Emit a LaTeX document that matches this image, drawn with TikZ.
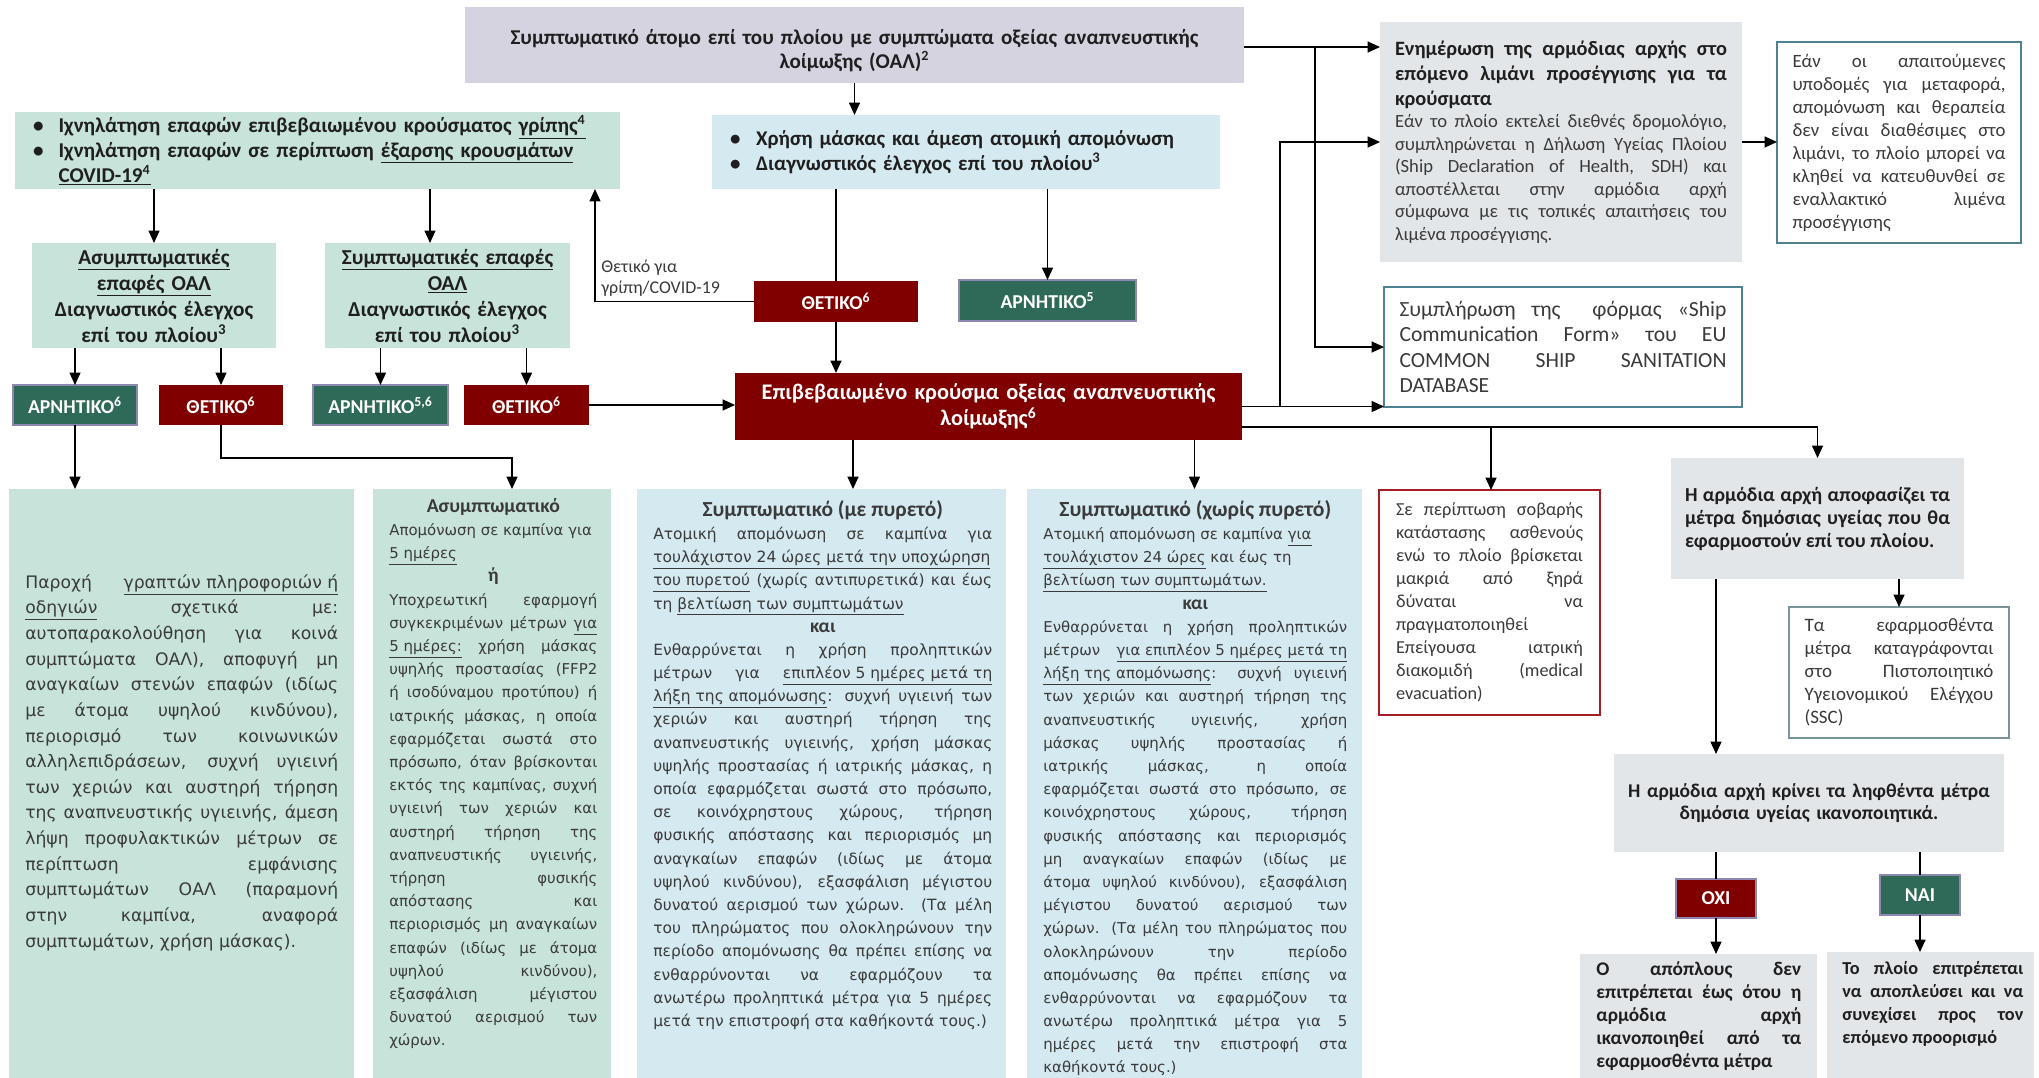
\documentclass[tikz,border=0pt]{standalone}
\usepackage{fontspec}
\setmainfont{Carlito}
\newfontfamily\colfont{DejaVu Sans}
\usetikzlibrary{arrows.meta}
\newcommand{\und}[1]{\underline{#1}}
\definecolor{lav}{HTML}{D5D3E0}
\definecolor{skyb}{HTML}{D5E9F1}
\definecolor{mint}{HTML}{C8E4DA}
\definecolor{gry}{HTML}{E3E6E8}
\definecolor{dkred}{HTML}{800000}
\definecolor{dkgrn}{HTML}{2E6A57}
\definecolor{edge}{HTML}{8D89AE}
\definecolor{tealedge}{HTML}{4F8290}
\definecolor{sscedge}{HTML}{7A9399}
\definecolor{evacedge}{HTML}{A31F24}
\definecolor{txt}{HTML}{1F1F1F}
\definecolor{soft}{HTML}{3A3A3A}
\hyphenpenalty=10000
\exhyphenpenalty=10000

\begin{document}
\begin{tikzpicture}[x=0.02cm, y=-0.02cm,
    cell/.style={inner sep=0pt, outer sep=0pt, text=txt},
    lavbox/.style={cell, fill=lav},
    bluebox/.style={cell, fill=skyb},
    mintbox/.style={cell, fill=mint},
    graybox/.style={cell, fill=gry},
    outlined/.style={cell, fill=white, draw=tealedge, line width=1pt, text=soft},
    flag/.style={cell, text=white, font=\bfseries\fontsize{11.2}{13}\selectfont},
    negflag/.style={flag, fill=dkgrn, draw=edge, line width=0.8pt},
    posflag/.style={flag, fill=dkred},
    coltext/.style={inner sep=0pt, anchor=north west, align=justify, text=soft},
    arr/.style={line width=0.9pt, -{Triangle[length=0.25cm,width=0.22cm]}},
    ln/.style={line width=0.9pt}]
\path[use as bounding box, fill=white] (0,0) rectangle (2039,1078);

\node[lavbox, minimum width=15.58cm, minimum height=1.52cm, text width=15cm, align=center,
      font=\bfseries\fontsize{12}{13.8}\selectfont] (case) at (854.5,45)
      {\rule{0pt}{15pt}Συμπτωματικό άτομο επί του πλοίου με συμπτώματα οξείας αναπνευστικής\\λοίμωξης (ΟΑΛ)\textsuperscript{2}};
\node[bluebox, minimum width=10.16cm, minimum height=1.48cm, text width=9.44cm, align=left,
      font=\bfseries\fontsize{11.9}{14}\selectfont] (mask) at (966,152)
      {\makebox[0.52cm][l]{\textbullet}Χρήση μάσκας και άμεση ατομική απομόνωση\\
       \makebox[0.52cm][l]{\textbullet}Διαγνωστικός έλεγχος επί του πλοίου\textsuperscript{3}};
\node[mintbox, minimum width=12.1cm, minimum height=1.54cm, text width=11.38cm, align=left,
      font=\bfseries\fontsize{12}{14.2}\selectfont] (trace) at (317.5,150.5)
      {\makebox[0.51cm][l]{\textbullet}\parbox[t]{10.87cm}{Ιχνηλάτηση επαφών επιβεβαιωμένου κρούσματος \und{γρίπης\textsuperscript{4}}}\\
       \makebox[0.51cm][l]{\textbullet}\parbox[t]{10.87cm}{Ιχνηλάτηση επαφών σε περίπτωση \und{έξαρσης κρουσμάτων}\linebreak\und{COVID-19\textsuperscript{4}}}};

\node[mintbox, minimum width=4.88cm, minimum height=2.1cm, text width=4.7cm, align=center,
      font=\bfseries\fontsize{12.1}{14.8}\selectfont] (asym) at (154,295.5)
      {\und{Ασυμπτωματικές}\\\und{επαφές ΟΑΛ}\\Διαγνωστικός έλεγχος\\επί του πλοίου\textsuperscript{3}};
\node[mintbox, minimum width=4.9cm, minimum height=2.1cm, text width=4.7cm, align=center,
      font=\bfseries\fontsize{12.1}{14.8}\selectfont] (symc) at (447.5,295.5)
      {\und{Συμπτωματικές επαφές}\\\und{ΟΑΛ}\\Διαγνωστικός έλεγχος\\επί του πλοίου\textsuperscript{3}};

\node[negflag, minimum width=2.48cm, minimum height=0.8cm] (neg1) at (75,405) {ΑΡΝΗΤΙΚΟ\textsuperscript{6}};
\node[posflag, minimum width=2.48cm, minimum height=0.8cm] (pos1) at (221,405) {ΘΕΤΙΚΟ\textsuperscript{6}};
\node[negflag, minimum width=2.7cm, minimum height=0.8cm] (neg2) at (380.5,405) {ΑΡΝΗΤΙΚΟ\textsuperscript{5,6}};
\node[posflag, minimum width=2.5cm, minimum height=0.8cm] (pos2) at (526.5,405) {ΘΕΤΙΚΟ\textsuperscript{6}};
\node[posflag, minimum width=3.28cm, minimum height=0.82cm] (pos3) at (836,301.5) {ΘΕΤΙΚΟ\textsuperscript{6}};
\node[negflag, minimum width=3.54cm, minimum height=0.82cm] (neg3) at (1047.5,300.5) {ΑΡΝΗΤΙΚΟ\textsuperscript{5}};
\node[posflag, minimum width=10.14cm, minimum height=1.34cm, text width=9.8cm, align=center,
      font=\bfseries\fontsize{12.7}{14.8}\selectfont] (conf) at (988.5,406.5)
      {Επιβεβαιωμένο κρούσμα οξείας αναπνευστικής\\λοίμωξης\textsuperscript{6}};
\node[anchor=west, align=left, inner sep=0pt, text=soft, font=\fontsize{10.2}{11.6}\selectfont] (poslbl) at (601,278)
      {Θετικό για\\γρίπη/COVID-19};

\node[graybox, text=soft, minimum width=7.24cm, minimum height=4.8cm, text width=6.64cm, align=justify,
      font=\fontsize{10.6}{12.8}\selectfont] (notify) at (1561,142)
      {{\bfseries\fontsize{11.6}{14.3}\selectfont\color{txt}Ενημέρωση της αρμόδιας αρχής στο\linebreak επόμενο λιμάνι προσέγγισης για τα\linebreak κρούσματα\par}
       Εάν το πλοίο εκτελεί διεθνές δρομολόγιο,\linebreak συμπληρώνεται η Δήλωση Υγείας Πλοίου\linebreak (Ship Declaration of Health, SDH) και\linebreak αποστέλλεται στην αρμόδια αρχή\linebreak σύμφωνα με τις τοπικές απαιτήσεις του\linebreak λιμένα προσέγγισης.};
\node[outlined, minimum width=4.88cm, minimum height=4.02cm, text width=4.26cm, align=justify,
      font=\fontsize{10.7}{13.1}\selectfont] (reroute) at (1899,142.5)
      {Εάν οι απαιτούμενες\linebreak υποδομές για μεταφορά,\linebreak απομόνωση και θεραπεία\linebreak δεν είναι διαθέσιμες στο\linebreak λιμάνι, το πλοίο μπορεί να\linebreak κληθεί να κατευθυνθεί σε\linebreak εναλλακτικό λιμένα\linebreak προσέγγισης};
\node[outlined, minimum width=7.16cm, minimum height=2.4cm, text width=6.54cm, align=justify,
      font=\fontsize{12.3}{14.4}\selectfont] (form) at (1563,347)
      {Συμπλήρωση της \ φόρμας «Ship\linebreak Communication Form» του EU\linebreak COMMON SHIP SANITATION\linebreak DATABASE};
\node[outlined, draw=evacedge, minimum width=4.42cm, minimum height=4.5cm, text width=3.74cm, align=justify,
      font=\fontsize{10.4}{13.1}\selectfont] (evac) at (1489.5,602.5)
      {Σε περίπτωση σοβαρής\linebreak κατάστασης ασθενούς\linebreak ενώ το πλοίο βρίσκεται\linebreak μακριά από ξηρά\linebreak δύναται να\linebreak πραγματοποιηθεί\linebreak Επείγουσα ιατρική\linebreak διακομιδή (medical\linebreak evacuation)};
\node[graybox, minimum width=5.86cm, minimum height=2.42cm, text width=5.3cm, align=justify,
      font=\bfseries\fontsize{11.3}{13.1}\selectfont] (decide) at (1817.5,518.5)
      {Η αρμόδια αρχή αποφασίζει τα\linebreak μέτρα δημόσιας υγείας που θα\linebreak εφαρμοστούν επί του πλοίου.};
\node[outlined, draw=sscedge, minimum width=4.4cm, minimum height=2.62cm, text width=3.78cm, align=justify,
      font=\fontsize{10.8}{13.1}\selectfont] (ssc) at (1899,672.5)
      {Τα εφαρμοσθέντα\linebreak μέτρα καταγράφονται\linebreak στο Πιστοποιητικό\linebreak Υγειονομικού Ελέγχου\linebreak (SSC)};
\node[graybox, minimum width=7.8cm, minimum height=1.96cm, text width=7.4cm, align=center,
      font=\bfseries\fontsize{11.1}{12.6}\selectfont] (judge) at (1809,803)
      {Η αρμόδια αρχή κρίνει τα ληφθέντα μέτρα\\δημόσια υγείας ικανοποιητικά.};
\node[posflag, draw=edge, line width=0.8pt, minimum width=1.6cm, minimum height=0.78cm] (no) at (1716,898.5) {ΟΧΙ};
\node[negflag, minimum width=1.6cm, minimum height=0.8cm] (yes) at (1920,895) {ΝΑΙ};
\node[graybox, minimum width=4.74cm, minimum height=2.48cm] (nosail) at (1698.5,1016) {};
\node[inner sep=0pt, anchor=north west, align=justify, text width=4.1cm, text=txt,
      font=\bfseries\fontsize{11}{13.1}\selectfont] (nosailtxt) at (1596,961)
      {Ο απόπλους δεν\linebreak επιτρέπεται έως ότου η\linebreak αρμόδια αρχή\linebreak ικανοποιηθεί από τα\linebreak εφαρμοσθέντα μέτρα};
\node[graybox, minimum width=4.14cm, minimum height=2.52cm] (sail) at (1930.5,1015) {};
\node[inner sep=0pt, anchor=north west, align=justify, text width=3.62cm, text=txt,
      font=\bfseries\fontsize{10.4}{13.1}\selectfont] (sailtxt) at (1842,961)
      {Το πλοίο επιτρέπεται\linebreak να αποπλεύσει και να\linebreak συνεχίσει προς τον\linebreak επόμενο προορισμό};

\node[mintbox, minimum width=6.9cm, minimum height=11.78cm] (advice) at (181.5,783.5) {};
\node[coltext, text width=6.26cm, font=\colfont\fontsize{9.8}{14.6}\selectfont] (advicetxt) at (25,574)
      {Παροχή \und{γραπτών πληροφοριών ή}\linebreak\und{οδηγιών} σχετικά με:\linebreak αυτοπαρακολούθηση για κοινά\linebreak συμπτώματα ΟΑΛ), αποφυγή μη\linebreak αναγκαίων στενών επαφών (ιδίως\linebreak με άτομα υψηλού κινδύνου),\linebreak περιορισμό των κοινωνικών\linebreak αλληλεπιδράσεων, συχνή υγιεινή\linebreak των χεριών και αυστηρή τήρηση\linebreak της αναπνευστικής υγιεινής, άμεση\linebreak λήψη προφυλακτικών μέτρων σε\linebreak περίπτωση εμφάνισης\linebreak συμπτωμάτων ΟΑΛ (παραμονή\linebreak στην καμπίνα, αναφορά\linebreak συμπτωμάτων, χρήση μάσκας).};
\node[mintbox, minimum width=4.76cm, minimum height=11.78cm] (isoasym) at (492,783.5) {};
\node[coltext, text width=4.16cm, font=\colfont\fontsize{8.5}{13.2}\selectfont] (isoasymtxt) at (389,498)
      {{\centering\normalfont\bfseries\fontsize{11.2}{13.2}\selectfont Ασυμπτωματικό\par}
       {\raggedright Απομόνωση σε καμπίνα για\newline\und{5 ημέρες}\par}
       {\centering\normalfont\bfseries\fontsize{11}{13.2}\selectfont ή\par}
       Υποχρεωτική εφαρμογή\linebreak συγκεκριμένων μέτρων \und{για}\linebreak\und{5 ημέρες:} χρήση μάσκας\linebreak υψηλής προστασίας (FFP2\linebreak ή ισοδύναμου προτύπου) ή\linebreak ιατρικής μάσκας, η οποία\linebreak εφαρμόζεται σωστά στο\linebreak πρόσωπο, όταν βρίσκονται\linebreak εκτός της καμπίνας, συχνή\linebreak υγιεινή των χεριών και\linebreak αυστηρή τήρηση της\linebreak αναπνευστικής υγιεινής,\linebreak τήρηση φυσικής\linebreak απόστασης και\linebreak περιορισμός μη αναγκαίων\linebreak επαφών (ιδίως με άτομα\linebreak υψηλού κινδύνου),\linebreak εξασφάλιση μέγιστου\linebreak δυνατού αερισμού των\linebreak χώρων.};
\node[bluebox, minimum width=7.38cm, minimum height=11.78cm] (isofever) at (821.5,783.5) {};
\node[coltext, text width=6.78cm, font=\colfont\fontsize{8.8}{13.2}\selectfont] (isofevertxt) at (653,500)
      {{\centering\normalfont\bfseries\fontsize{12.2}{13.2}\selectfont Συμπτωματικό (με πυρετό)\par}
       Ατομική απομόνωση σε καμπίνα για\linebreak\und{τουλάχιστον 24 ώρες μετά την υποχώρηση}\linebreak\und{του πυρετού} (χωρίς αντιπυρετικά) και έως\linebreak τη \und{βελτίωση των συμπτωμάτων}\par
       {\centering\normalfont\bfseries\fontsize{11}{13.2}\selectfont και\par}
       Ενθαρρύνεται η χρήση προληπτικών\linebreak μέτρων για \und{επιπλέον 5 ημέρες μετά τη}\linebreak\und{λήξη της απομόνωσης}: συχνή υγιεινή των\linebreak χεριών και αυστηρή τήρηση της\linebreak αναπνευστικής υγιεινής, χρήση μάσκας\linebreak υψηλής προστασίας ή ιατρικής μάσκας, η\linebreak οποία εφαρμόζεται σωστά στο πρόσωπο,\linebreak σε κοινόχρηστους χώρους, τήρηση\linebreak φυσικής απόστασης και περιορισμός μη\linebreak αναγκαίων επαφών (ιδίως με άτομα\linebreak υψηλού κινδύνου), εξασφάλιση μέγιστου\linebreak δυνατού αερισμού των χώρων. (Τα μέλη\linebreak του πληρώματος που ολοκληρώνουν την\linebreak περίοδο απομόνωσης θα πρέπει επίσης να\linebreak ενθαρρύνονται να εφαρμόζουν τα\linebreak ανωτέρω προληπτικά μέτρα για 5 ημέρες\linebreak μετά την επιστροφή στα καθήκοντά τους.)};
\node[bluebox, minimum width=6.7cm, minimum height=11.78cm] (isomild) at (1194.5,783.5) {};
\node[coltext, text width=6.08cm, font=\colfont\fontsize{8.5}{13.2}\selectfont] (isomildtxt) at (1043,500)
      {{\centering\normalfont\bfseries\fontsize{12.3}{13.2}\selectfont Συμπτωματικό (χωρίς πυρετό)\par}
       {\raggedright Ατομική απομόνωση σε καμπίνα \und{για}\newline\und{τουλάχιστον 24 ώρες} και έως τη\newline\und{βελτίωση των συμπτωμάτων.}\par}
       {\centering\normalfont\bfseries\fontsize{11}{13.2}\selectfont και\par}
       Ενθαρρύνεται η χρήση προληπτικών\linebreak μέτρων \und{για επιπλέον 5 ημέρες μετά τη}\linebreak\und{λήξη της απομόνωσης}: συχνή υγιεινή\linebreak των χεριών και αυστηρή τήρηση της\linebreak αναπνευστικής υγιεινής, χρήση\linebreak μάσκας υψηλής προστασίας ή\linebreak ιατρικής μάσκας, η οποία\linebreak εφαρμόζεται σωστά στο πρόσωπο, σε\linebreak κοινόχρηστους χώρους, τήρηση\linebreak φυσικής απόστασης και περιορισμός\linebreak μη αναγκαίων επαφών (ιδίως με\linebreak άτομα υψηλού κινδύνου), εξασφάλιση\linebreak μέγιστου δυνατού αερισμού των\linebreak χώρων. (Τα μέλη του πληρώματος που\linebreak ολοκληρώνουν την περίοδο\linebreak απομόνωσης θα πρέπει επίσης να\linebreak ενθαρρύνονται να εφαρμόζουν τα\linebreak ανωτέρω προληπτικά μέτρα για 5\linebreak ημέρες μετά την επιστροφή στα\linebreak καθήκοντά τους.)};

\draw[arr] (case.south) -- (case.south |- mask.north);
\draw[ln] (pos3.north |- mask.south) -- (pos3.north);
\draw[arr] (neg3.north |- mask.south) -- (neg3.north);
\draw[arr] (pos3.south) -- (pos3.south |- conf.north);
\coordinate (up) at (595,301.5);
\draw[arr] (pos3.west) -- (up) -- (up |- trace.south);
\draw[arr] (asym.north |- trace.south) -- (asym.north);
\coordinate (c2) at (430,0);
\draw[arr] (c2 |- trace.south) -- (c2 |- symc.north);
\draw[arr] (neg1.north |- asym.south) -- (neg1.north);
\draw[arr] (pos1.north |- asym.south) -- (pos1.north);
\draw[arr] (neg2.north |- symc.south) -- (neg2.north);
\draw[arr] (pos2.north |- symc.south) -- (pos2.north);
\draw[arr] (pos2.east) -- (pos2.east -| conf.west);
\draw[arr] (neg1.south) -- (neg1.south |- advice.north);
\coordinate (bend) at (512,458);
\draw[arr] (pos1.south) |- (bend) -- (bend |- isoasym.north);
\coordinate (c3) at (853,0);
\draw[arr] (c3 |- conf.south) -- (c3 |- isofever.north);
\draw[arr] (isomild.north |- conf.south) -- (isomild.north);
\coordinate (j1) at (1315,47);
\draw[arr] (case.east |- j1) -- (notify.west |- j1);
\draw[arr] (j1) |- (form.west);
\draw[arr] (conf.east) -- (conf.east -| form.west);
\coordinate (j2) at (1280,406.5);
\draw[arr] (j2) |- (notify.west);
\draw[arr] (notify.east) -- (notify.east -| reroute.west);
\coordinate (j3) at (1491,427);
\draw[arr] (conf.east |- j3) -| (decide.north);
\draw[arr] (j3) -- (j3 |- evac.north);
\draw[arr] (no.north |- decide.south) -- (no.north |- judge.north);
\draw[arr] (ssc.north |- decide.south) -- (ssc.north);
\draw[ln] (no.north |- judge.south) -- (no.north);
\draw[arr] (no.south) -- (no.south |- nosail.north);
\draw[ln] (yes.north |- judge.south) -- (yes.north);
\draw[arr] (yes.south) -- (yes.south |- sail.north);
\end{tikzpicture}
\end{document}
